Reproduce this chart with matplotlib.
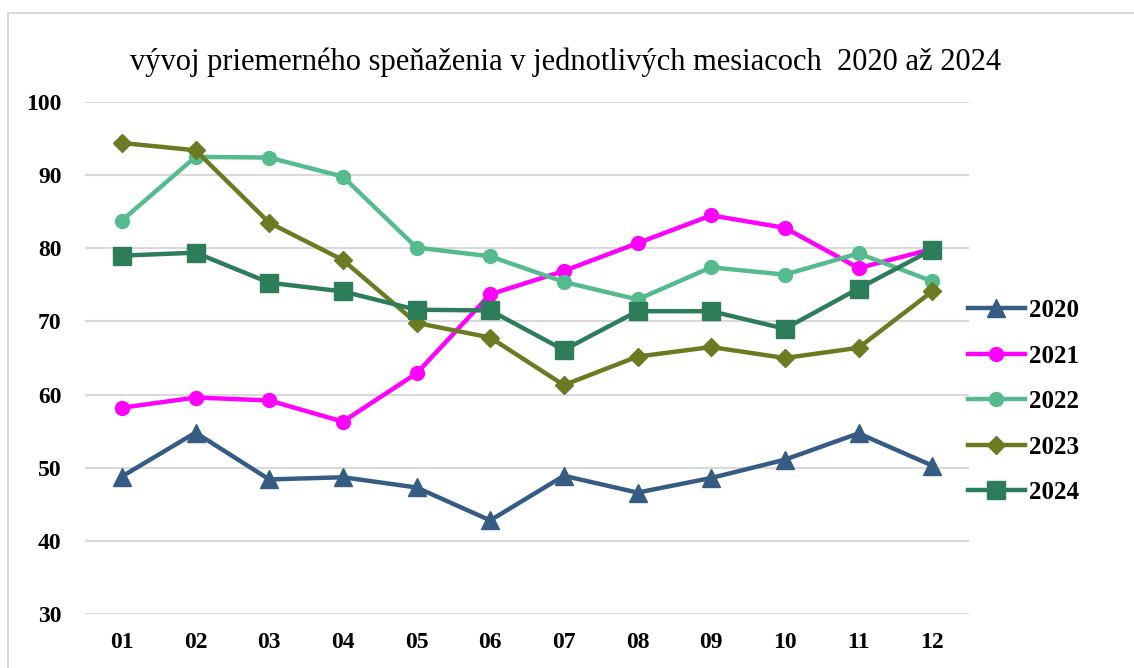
import matplotlib
matplotlib.use("Agg")
import matplotlib.pyplot as plt
from matplotlib.patches import Rectangle

months = ["01", "02", "03", "04", "05", "06", "07", "08", "09", "10", "11", "12"]

y2020 = [48.8, 54.8, 48.4, 48.7, 47.3, 42.8, 48.9, 46.6, 48.6, 51.1, 54.7, 50.3]
y2021 = [58.2, 59.6, 59.2, 56.3, 62.9, 73.7, 76.9, 80.7, 84.5, 82.8, 77.3, 79.9]
y2022 = [83.8, 92.5, 92.4, 89.8, 80.1, 78.9, 75.4, 73.0, 77.4, 76.4, 79.3, 75.5]
y2023 = [94.4, 93.4, 83.5, 78.4, 69.8, 67.8, 61.3, 65.2, 66.5, 65.0, 66.4, 74.1]
y2024 = [79.0, 79.4, 75.3, 74.1, 71.6, 71.5, 66.1, 71.4, 71.4, 69.0, 74.5, 79.8]

title = "vývoj priemerného speňaženia v jednotlivých mesiacoch  2020 až 2024"

plt.rcParams["font.family"] = ["Liberation Serif", "DejaVu Serif"]

fig = plt.figure(figsize=(11.34, 6.68), dpi=100)
ax = fig.add_axes([0.075, 0.0808, 0.7795, 0.7665])

x = list(range(len(months)))
ax.plot(x, y2020, color="#375C83", lw=3.2, marker="^", ms=13, label="2020")
ax.plot(x, y2021, color="#FF00FF", lw=3.2, marker="o", ms=10, label="2021")
ax.plot(x, y2022, color="#55BB8E", lw=3.2, marker="o", ms=10, label="2022")
ax.plot(x, y2023, color="#6B7B23", lw=3.2, marker="D", ms=9.5, label="2023")
ax.plot(x, y2024, color="#2E7D5A", lw=3.2, marker="s", ms=13, label="2024")

ax.set_xlim(-0.5, len(months) - 0.5)
ax.set_ylim(30, 100)
ax.set_yticks(range(30, 101, 10))
ax.set_xticks(x)
ax.set_xticklabels(months)
ax.grid(axis="y", color="#D9D9D9", lw=1.5)
ax.set_axisbelow(True)
for s in ax.spines.values():
    s.set_visible(False)
ax.tick_params(length=0, labelsize=17, pad=13)
ax.tick_params(axis="y", pad=17)
for lbl in ax.get_xticklabels() + ax.get_yticklabels():
    lbl.set_fontweight("bold")

fig.text(0.499, 0.907, title, ha="center", va="center", fontsize=22)

leg = ax.legend(loc="center left", bbox_to_anchor=(0.973, 0.415), frameon=False,
                prop={"weight": "bold", "size": 18}, handlelength=2.3,
                handletextpad=0.15, labelspacing=0.9)

fig.patches.append(Rectangle((8 / 1134, -0.1), 1.2, 1.1 - 13 / 668,
                             transform=fig.transFigure, fill=False,
                             edgecolor="#D9D9D9", lw=1.5))

fig.savefig("out.png", dpi=100)
